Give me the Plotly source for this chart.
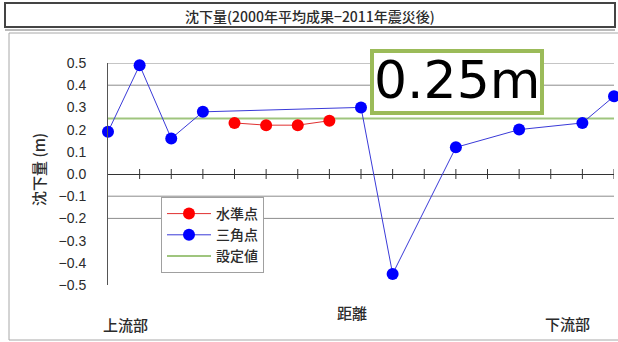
import plotly.graph_objects as go

# Survey-point settlement values (m) along the river, upstream -> downstream
n_positions = 17
level_x = [4, 5, 6, 7]
level_y = [0.23, 0.22, 0.22, 0.24]
tri_x = [0, 1, 2, 3, 8, 9, 11, 13, 15, 16]
tri_y = [0.19, 0.49, 0.16, 0.28, 0.30, -0.45, 0.12, 0.20, 0.23, 0.35]
setting_value = 0.25
grid_levels = [0.5, 0.4, -0.1, -0.2]
y_ticks = [0.5, 0.4, 0.3, 0.2, 0.1, 0.0, -0.1, -0.2, -0.3, -0.4, -0.5]

W, H = 618, 342
ML, MR, MT, MB = 108, 4, 63, 57
PW, PH = W - ML - MR, H - MT - MB

JP = "Noto Sans CJK JP"


def fx(p):
    return (p - ML) / PW


def fy(p):
    return (H - MB - p) / PH


fig = go.Figure()

fig.add_trace(go.Scatter(
    x=[0, n_positions - 1], y=[setting_value, setting_value], mode="lines",
    name="設定値", line=dict(color="#9fc57e", width=2), legendrank=3,
))
fig.add_trace(go.Scatter(
    x=level_x, y=level_y, mode="lines+markers", name="水準点",
    line=dict(color="#e03030", width=1), marker=dict(color="#ff0000", size=12),
    legendrank=1, cliponaxis=False,
))
fig.add_trace(go.Scatter(
    x=tri_x, y=tri_y, mode="lines+markers", name="三角点",
    line=dict(color="#3a3ad8", width=1), marker=dict(color="#0000ff", size=12),
    legendrank=2, cliponaxis=False,
))

shapes = []
# partial horizontal gridlines
for g in grid_levels:
    shapes.append(dict(type="line", xref="paper", yref="y", x0=0, x1=1, y0=g, y1=g,
                       line=dict(color="#8c8c8c", width=1), layer="below"))
# crossing tick marks on the zero axis
for i in range(1, n_positions):
    shapes.append(dict(type="line", xref="x", yref="y", x0=i, x1=i,
                       ysizemode="pixel", yanchor=0, y0=-5, y1=5,
                       line=dict(color="#333333", width=1)))
# outer chart frame
shapes.append(dict(type="rect", xref="paper", yref="paper", x0=fx(9), x1=fx(620),
                   y0=fy(340), y1=fy(33), line=dict(color="#a8a8a8", width=1), layer="below"))
# title box
shapes.append(dict(type="rect", xref="paper", yref="paper", x0=fx(5), x1=fx(615),
                   y0=fy(27), y1=fy(3), line=dict(color="#444444", width=2), layer="below"))
shapes.append(dict(type="line", xref="paper", yref="paper", x0=fx(5), x1=fx(615),
                   y0=fy(30), y1=fy(30), line=dict(color="#777777", width=1), layer="below"))
# callout box for the setting value
shapes.append(dict(type="rect", xref="paper", yref="paper", x0=fx(372), x1=fx(542),
                   y0=fy(113), y1=fy(51), fillcolor="white",
                   line=dict(color="#9bbb59", width=4), layer="above"))


def label(text, px, py, size, family=JP, color="#2b2b2b", angle=0, weight=500):
    return dict(text=text, xref="paper", yref="paper", x=fx(px), y=fy(py),
                xanchor="center", yanchor="middle", showarrow=False, textangle=angle,
                font=dict(family=family, size=size, color=color, weight=weight))


annotations = [
    label("沈下量(2000年平均成果−2011年震災後)", 310, 16, 14),
    label("0.25m", 457, 80, 52, family="DejaVu Sans", color="#000000", weight=400),
    label("沈下量 (m)", 38, 170, 15, angle=-90),
    label("上流部", 125, 324, 15),
    label("距離", 352, 312, 15),
    label("下流部", 567, 323, 15),
]

fig.update_layout(
    width=W, height=H, margin=dict(l=ML, r=MR, t=MT, b=MB),
    paper_bgcolor="white", plot_bgcolor="white",
    shapes=shapes, annotations=annotations,
    showlegend=True,
    legend=dict(x=fx(161), y=fy(197), xanchor="left", yanchor="top",
                bgcolor="white", bordercolor="#a0a0a0", borderwidth=1,
                font=dict(family=JP, size=14, color="#2b2b2b", weight=500),
                tracegroupgap=0, itemwidth=44),
    xaxis=dict(range=[0, n_positions - 1], showgrid=False, showticklabels=False,
               zeroline=False, showline=False, ticks=""),
    yaxis=dict(range=[-0.5, 0.5], tickvals=y_ticks, tickformat=".1f",
               showgrid=False, zeroline=True, zerolinecolor="#333333", zerolinewidth=1,
               showline=True, linecolor="#555555", linewidth=1, ticks="",
               ticklabelstandoff=18,
               tickfont=dict(family="Liberation Sans", size=14, color="#2b2b2b")),
)

fig.write_html("out.html")
